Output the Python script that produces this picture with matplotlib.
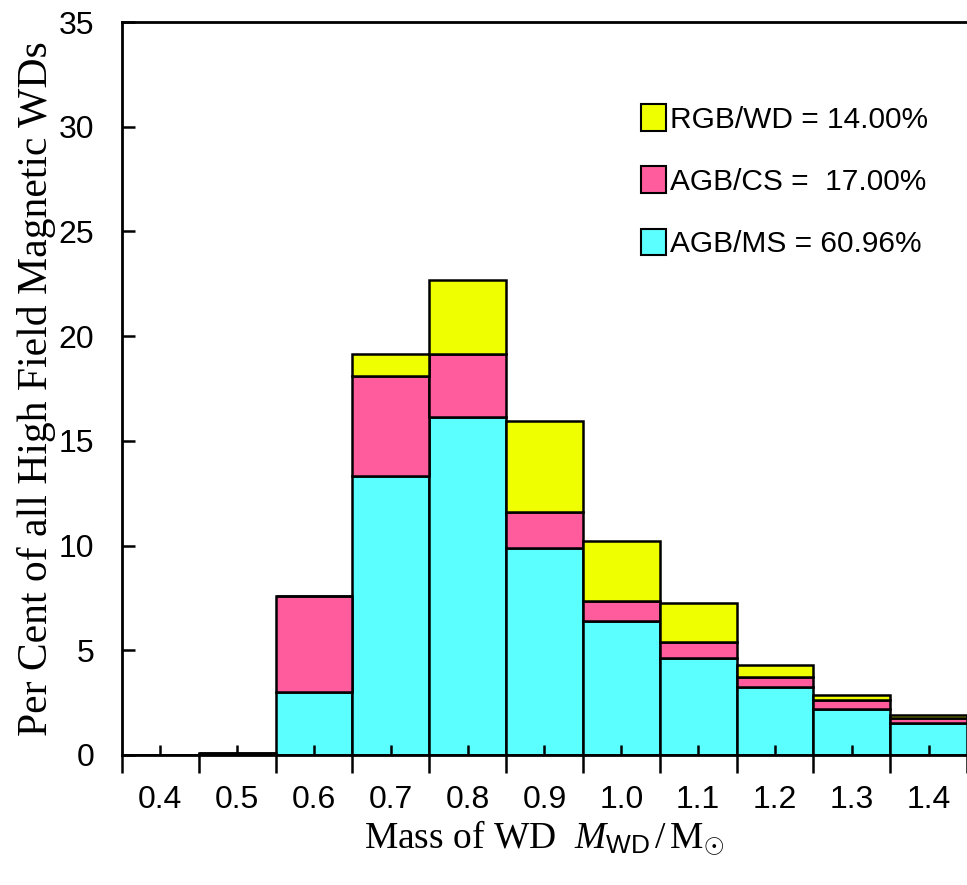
import matplotlib
matplotlib.use("Agg")
import matplotlib.pyplot as plt
from matplotlib.patches import Patch
import numpy as np

# masses (bin centres) and stacked per-cent values
mass = [0.4, 0.5, 0.6, 0.7, 0.8, 0.9, 1.0, 1.1, 1.2, 1.3, 1.4]
agb_ms = [0.0, 0.05, 3.0, 13.3, 16.15, 9.9, 6.4, 4.63, 3.26, 2.18, 1.51]
agb_cs = [0.0, 0.05, 4.6, 4.8, 3.0, 1.7, 0.95, 0.77, 0.48, 0.45, 0.24]
rgb_wd = [0.0, 0.0, 0.0, 1.05, 3.55, 4.35, 2.85, 1.86, 0.56, 0.24, 0.16]

labels = ["RGB/WD = 14.00%", "AGB/CS =  17.00%", "AGB/MS = 60.96%"]
yticks = [0, 5, 10, 15, 20, 25, 30, 35]

c_ms = "#5cffff"
c_cs = "#ff5c9e"
c_wd = "#f0ff00"

plt.rcParams['mathtext.fontset'] = 'custom'
plt.rcParams['mathtext.rm'] = 'Liberation Serif'
plt.rcParams['mathtext.it'] = 'Liberation Serif:italic'
plt.rcParams['mathtext.sf'] = 'Liberation Sans'

fig = plt.figure(figsize=(9.67, 8.85), dpi=100)
ax = fig.add_axes([0.126, 0.147, 0.874, 0.828])

x = np.array(mass)
ms = np.array(agb_ms)
cs = np.array(agb_cs)
wd = np.array(rgb_wd)
w = 0.1
kw = dict(width=w, edgecolor="black", linewidth=1.8, align="center")
ax.bar(x, ms, color=c_ms, **kw)
ax.bar(x, cs, bottom=ms, color=c_cs, **kw)
ax.bar(x, wd, bottom=ms + cs, color=c_wd, **kw)

ax.set_xlim(0.35, 1.45)
ax.set_ylim(0, 35)

for s in ["left", "top", "bottom"]:
    ax.spines[s].set_linewidth(2)
ax.spines["right"].set_visible(False)

# labelled ticks at bin centres (inward), bin edges marked outward
ax.set_xticks(mass)
ax.set_xticklabels([f"{m:.1f}" for m in mass], family="Liberation Sans")
ax.set_xticks(np.arange(0.35, 1.46, 0.1), minor=True)
ax.tick_params(axis="x", which="major", direction="in", length=7, width=1.8,
               labelsize=23, pad=22)
ax.tick_params(axis="x", which="minor", direction="out", length=13, width=1.8)
ax.set_yticks(yticks)
ax.set_yticklabels([str(t) for t in yticks], family="Liberation Sans")
ax.tick_params(axis="y", direction="in", length=9, width=1.8, labelsize=23, pad=20)

ax.set_ylabel("Per Cent of all High Field Magnetic WDs", family="Liberation Serif",
              fontsize=30, labelpad=2)
ax.set_xlabel(r"Mass of WD  $M_{\mathsf{WD}}\,/\,\mathrm{M}_{\odot}$", family="Liberation Serif",
              fontsize=27, labelpad=2)

handles = [Patch(facecolor=c, edgecolor="black", linewidth=1.5) for c in (c_wd, c_cs, c_ms)]
leg = ax.legend(handles, labels, loc="upper left", bbox_to_anchor=(0.614, 0.888),
                frameon=False, borderpad=0, borderaxespad=0, handlelength=0.85,
                handleheight=0.98, handletextpad=0.12, labelspacing=1.1,
                prop={"family": "Liberation Sans", "size": 21.5})

fig.savefig("out.png", dpi=100)
